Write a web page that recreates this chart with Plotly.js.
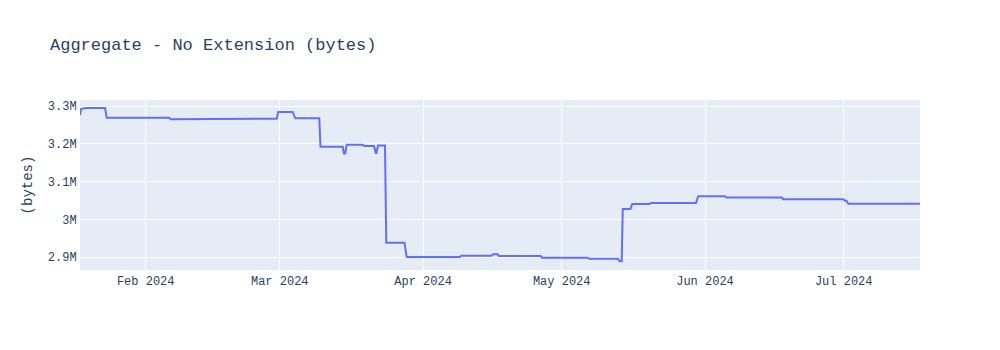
<!DOCTYPE html>
<html>
<head>
<meta charset="utf-8">
<script src="https://cdn.plot.ly/plotly-3.0.1.min.js"></script>
<style>html,body{margin:0;padding:0;background:#fff;}#chart{width:1000px;height:350px;}</style>
</head>
<body>
<div id="chart"></div>
<script>
// Values
var dates = [
  "2024-01-17 19:00", "2024-01-18 00:00", "2024-01-19 02:00", "2024-01-23 05:00",
  "2024-01-23 13:30", "2024-02-06 02:30", "2024-02-06 09:48", "2024-02-17 17:17",
  "2024-02-18 01:08", "2024-02-29 08:10", "2024-02-29 16:28", "2024-03-03 19:12",
  "2024-03-04 08:43", "2024-03-09 13:20", "2024-03-09 19:34", "2024-03-14 14:50",
  "2024-03-14 21:35", "2024-03-15 04:20", "2024-03-15 11:35", "2024-03-18 22:40",
  "2024-03-19 05:25", "2024-03-21 09:22", "2024-03-21 18:43", "2024-03-21 22:19",
  "2024-03-22 06:07", "2024-03-23 18:29", "2024-03-24 01:12", "2024-03-27 23:46",
  "2024-03-28 11:04", "2024-04-08 23:46", "2024-04-09 06:36", "2024-04-15 20:24",
  "2024-04-16 03:07", "2024-04-17 02:38", "2024-04-17 10:19", "2024-04-26 10:48",
  "2024-04-26 17:31", "2024-05-06 13:55", "2024-05-06 21:36", "2024-05-13 04:05",
  "2024-05-13 12:58", "2024-05-13 23:25", "2024-05-14 05:05", "2024-05-15 21:07",
  "2024-05-16 06:00", "2024-05-19 23:46", "2024-05-20 06:29", "2024-05-30 01:12",
  "2024-05-30 12:36", "2024-06-05 07:41", "2024-06-05 15:36", "2024-06-17 14:10",
  "2024-06-17 21:50", "2024-06-30 22:05", "2024-07-01 06:43", "2024-07-01 14:38",
  "2024-07-02 00:00", "2024-07-17 12:15"
];
var bytes = [
  3276000, 3292000, 3294700, 3294700,
  3269000, 3269000, 3264800, 3264800,
  3266400, 3266400, 3284400, 3284400,
  3267500, 3267500, 3192300, 3192300,
  3174300, 3174300, 3197600, 3197600,
  3194200, 3194200, 3175700, 3175700,
  3195500, 3195500, 2938400, 2938400,
  2900300, 2900300, 2904000, 2904000,
  2907700, 2907700, 2903200, 2903200,
  2898700, 2898700, 2896000, 2896000,
  2889200, 2889200, 3027500, 3027500,
  3040700, 3040700, 3043400, 3043400,
  3061400, 3061400, 3057900, 3057900,
  3053400, 3053400, 3049500, 3049500,
  3041500, 3041500
];
var xRange = ["2024-01-17 19:00", "2024-07-17 12:15"];
var yRange = [2866100, 3315900];
var chartTitle = "Aggregate - No Extension (bytes)";
var yTitle = "(bytes)";

var trace = {
  x: dates,
  y: bytes,
  type: "scatter",
  mode: "lines",
  line: {color: "#636efa", width: 2},
  hoverinfo: "x+y"
};

var layout = {
  width: 1000,
  height: 350,
  margin: {l: 80, r: 80, t: 100, b: 80},
  paper_bgcolor: "#ffffff",
  plot_bgcolor: "#E5ECF6",
  font: {family: "'Courier New', 'Liberation Mono', monospace", size: 12, color: "#2a3f5f"},
  title: {text: chartTitle, x: 0.05, xanchor: "left", font: {size: 17, color: "#2a3f5f"}},
  showlegend: false,
  xaxis: {
    type: "date",
    range: xRange,
    dtick: "M1",
    tickformat: "%b %Y",
    gridcolor: "#ffffff",
    linecolor: "#ffffff",
    zeroline: false,
    ticks: ""
  },
  yaxis: {
    range: yRange,
    dtick: 100000,
    title: {text: yTitle, font: {size: 14}, standoff: 11},
    gridcolor: "#ffffff",
    linecolor: "#ffffff",
    zeroline: false,
    ticks: ""
  }
};

Plotly.newPlot("chart", [trace], layout, {displayModeBar: false, responsive: false});
</script>
</body>
</html>
